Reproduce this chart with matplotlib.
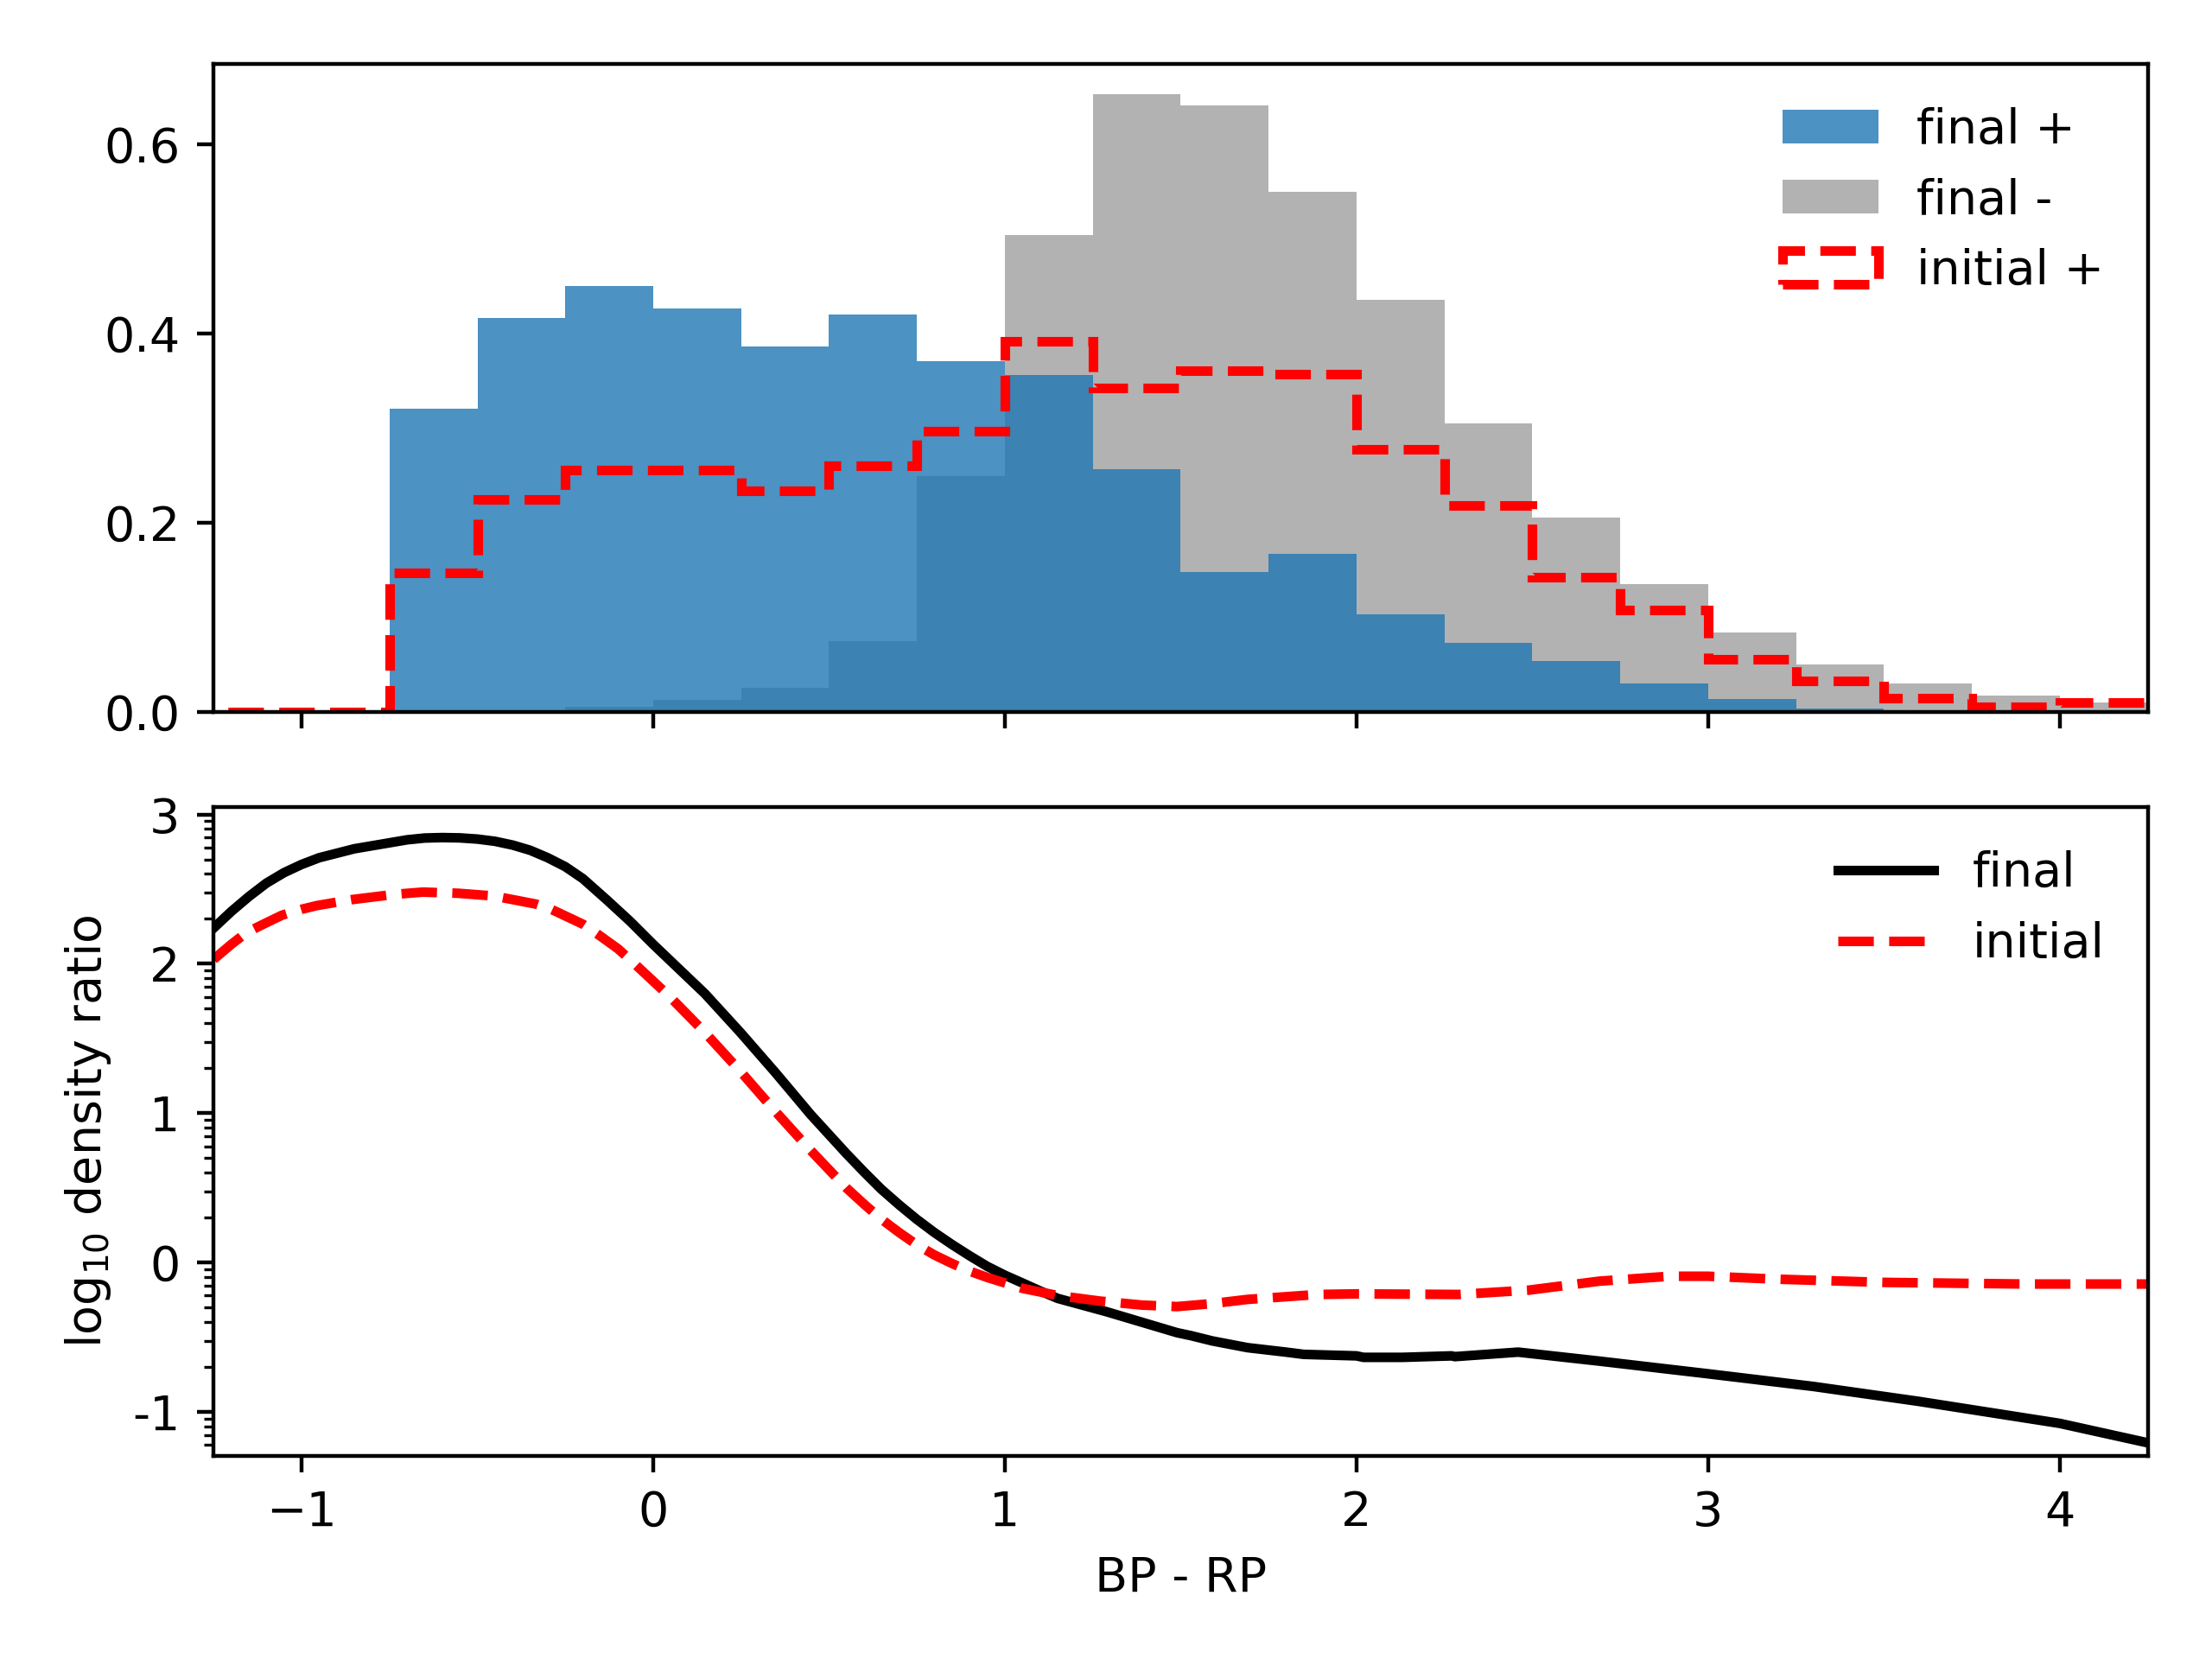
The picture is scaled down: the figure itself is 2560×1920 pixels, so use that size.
import matplotlib
matplotlib.use("Agg")
import matplotlib.pyplot as plt
import numpy as np

# histogram bins (BP - RP)
bin_edges = np.arange(-1.5, 4.51, 0.25)

final_plus = [0, 0, 0, 0.321, 0.416, 0.450, 0.426, 0.386, 0.420, 0.371, 0.356, 0.257,
              0.148, 0.167, 0.103, 0.073, 0.054, 0.030, 0.014, 0.004, 0.002, 0.001, 0.0005, 0]
final_minus = [0, 0, 0, 0, 0.001, 0.0056, 0.0128, 0.0257, 0.075, 0.249, 0.504, 0.6525,
               0.641, 0.550, 0.436, 0.305, 0.206, 0.135, 0.084, 0.050, 0.030, 0.018, 0.010, 0.006]
initial_plus = [0, 0, 0, 0.147, 0.225, 0.256, 0.256, 0.2335, 0.260, 0.297, 0.392, 0.3425,
                0.361, 0.3575, 0.278, 0.218, 0.143, 0.108, 0.056, 0.0335, 0.0145, 0.006, 0.010, 0.008]

# log10 density ratio curves
x_final = [-1.25, -1.2, -1.15, -1.1, -1.05, -1.0, -0.95, -0.85, -0.75, -0.7, -0.65, -0.6,
           -0.55, -0.5, -0.45, -0.4, -0.35, -0.3, -0.25, -0.2, -0.133, -0.066, 0.0, 0.147,
           0.248, 0.348, 0.448, 0.549, 0.6, 0.649, 0.7, 0.749, 0.8, 0.85, 0.9, 0.95, 1.0,
           1.05, 1.1, 1.15, 1.29, 1.39, 1.49, 1.53, 1.59, 1.69, 1.80, 1.85, 2.0, 2.02, 2.13,
           2.27, 2.28, 2.46, 2.69, 3.0, 3.30, 3.60, 4.0, 4.25]
log_final = [2.24, 2.35, 2.45, 2.54, 2.61, 2.665, 2.71, 2.77, 2.81, 2.83, 2.842, 2.845,
             2.843, 2.835, 2.82, 2.795, 2.76, 2.71, 2.65, 2.57, 2.43, 2.285, 2.13, 1.80,
             1.54, 1.27, 0.99, 0.73, 0.605, 0.49, 0.385, 0.29, 0.2, 0.12, 0.045, -0.026, -0.085,
             -0.137, -0.19, -0.24, -0.33, -0.40, -0.47, -0.49, -0.525, -0.57, -0.60, -0.615,
             -0.625, -0.635, -0.635, -0.625, -0.63, -0.60, -0.66, -0.745, -0.83, -0.93,
             -1.077, -1.207]

x_initial = [-1.25, -1.2, -1.156, -1.1, -1.056, -1.0, -0.956, -0.856, -0.735, -0.655, -0.554,
             -0.454, -0.4, -0.334, -0.29, -0.254, -0.2, -0.153, -0.1, -0.053, 0.047, 0.147,
             0.248, 0.348, 0.448, 0.549, 0.6, 0.649, 0.7, 0.749, 0.8, 0.85, 0.9, 0.95, 1.05,
             1.15, 1.27, 1.39, 1.49, 1.59, 1.69, 1.89, 2.0, 2.29, 2.49, 2.69, 2.89, 3.0, 3.19,
             3.50, 3.90, 4.25]
log_initial = [2.03, 2.13, 2.21, 2.275, 2.325, 2.365, 2.39, 2.43, 2.465, 2.48, 2.472,
               2.454, 2.43, 2.40, 2.365, 2.325, 2.265, 2.19, 2.1, 2.00, 1.78, 1.54,
               1.28, 1.01, 0.75, 0.50, 0.39, 0.29, 0.2, 0.12, 0.05, -0.007, -0.058, -0.10,
               -0.173, -0.221, -0.258, -0.285, -0.295, -0.275, -0.247, -0.214, -0.210, -0.214,
               -0.185, -0.125, -0.092, -0.092, -0.111, -0.133, -0.144, -0.144]

ytick_vals = [-1, 0, 1, 2, 3]
ytick_labels = ['-1', '0', '1', '2', '3']

centers = 0.5 * (bin_edges[:-1] + bin_edges[1:])

fig, (ax1, ax2) = plt.subplots(2, 1, sharex=True, figsize=(6.4, 4.8))
fig.subplots_adjust(left=0.0966, right=0.9709, top=0.9617, bottom=0.1224, hspace=0.1465)

# top panel
_, _, p_minus = ax1.hist(centers, bins=bin_edges, weights=final_minus, color='gray', alpha=0.6,
                         label='final -')
_, _, p_plus = ax1.hist(centers, bins=bin_edges, weights=final_plus, color='C0', alpha=0.8,
                        label='final +')
_, _, p_init = ax1.hist(centers, bins=bin_edges, weights=initial_plus, histtype='step',
                        color='r', ls='--', lw=2, label='initial +')
ax1.legend(handles=[p_plus[0], p_minus[0], p_init[0]], loc='upper right', frameon=False)

# bottom panel
ax2.plot(x_final, 10.0 ** np.array(log_final), 'k-', lw=2, label='final')
ax2.plot(x_initial, 10.0 ** np.array(log_initial), 'r--', lw=2, label='initial')
ax2.set_yscale('log')
ax2.set_ylim(10 ** -1.295, 10 ** 3.048)
ax2.set_yticks([10.0 ** v for v in ytick_vals])
ax2.set_yticklabels(ytick_labels)
ax2.yaxis.set_minor_formatter(matplotlib.ticker.NullFormatter())
ax2.set_ylabel('log$_{10}$ density ratio')
ax2.set_xlabel('BP - RP')
ax2.legend(loc='upper right', frameon=False)

ax2.set_xlim(-1.25, 4.25)

fig.savefig('out.png', dpi=400)
